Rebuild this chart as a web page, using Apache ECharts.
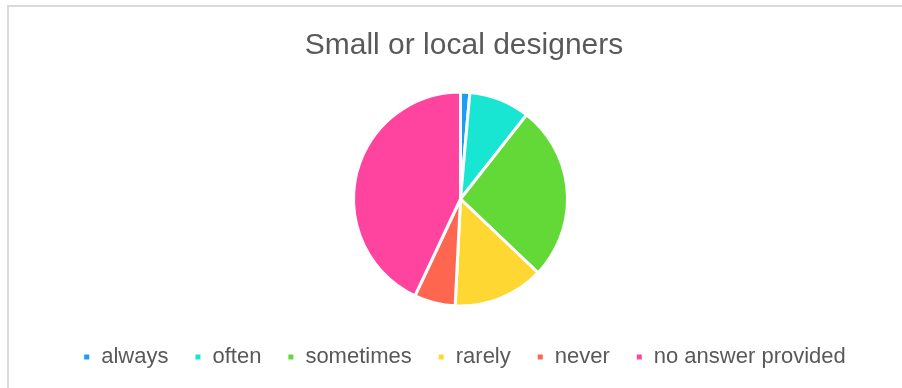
<!DOCTYPE html>
<html>
<head>
<meta charset="utf-8">
<script src="https://cdn.jsdelivr.net/npm/echarts@6/dist/echarts.min.js"></script>
<style>
  html, body { margin: 0; padding: 0; width: 902px; height: 388px; overflow: hidden; background: #fff; }
  #frame { position: absolute; left: 7px; top: 5px; width: 1000px; height: 1000px;
           border-left: 2px solid #dadada; border-top: 2px solid #dadada; box-sizing: border-box; }
  #chart { position: absolute; left: 0; top: 0; width: 928px; height: 388px; }
</style>
</head>
<body>
<div id="frame"></div>
<div id="chart"></div>
<script>
// Survey answers for "Small or local designers" (share of respondents, %)
const categories = ['always', 'often', 'sometimes', 'rarely', 'never', 'no answer provided'];
const shares = [1.4, 9.2, 26.5, 13.7, 6.2, 43.0];
const sliceColors = ['#1a9cf7', '#19e6d2', '#62d937', '#ffd733', '#ff6650', '#ff44a0'];
const titleText = 'Small or local designers';

const chart = echarts.init(document.getElementById('chart'), null, { renderer: 'canvas' });

chart.setOption({
  animation: false,
  color: sliceColors,
  title: {
    text: titleText,
    left: 'center',
    top: 26,
    textStyle: {
      fontFamily: 'Liberation Sans, Arial, sans-serif',
      fontSize: 30,
      fontWeight: 'normal',
      color: '#595959'
    }
  },
  legend: {
    data: categories,
    left: 'center',
    top: 341,
    icon: 'rect',
    itemWidth: 7,
    itemHeight: 7,
    itemGap: 25,
    textStyle: {
      fontFamily: 'Liberation Sans, Arial, sans-serif',
      fontSize: 22,
      color: '#595959',
      padding: [0, 0, 0, 6]
    }
  },
  series: [{
    type: 'pie',
    center: [460.5, 199],
    radius: 107,
    startAngle: 90,
    clockwise: true,
    label: { show: false },
    labelLine: { show: false },
    emphasis: { disabled: true },
    itemStyle: { borderColor: '#ffffff', borderWidth: 3 },
    data: categories.map((name, i) => ({ name: name, value: shares[i] }))
  }]
});
</script>
</body>
</html>
